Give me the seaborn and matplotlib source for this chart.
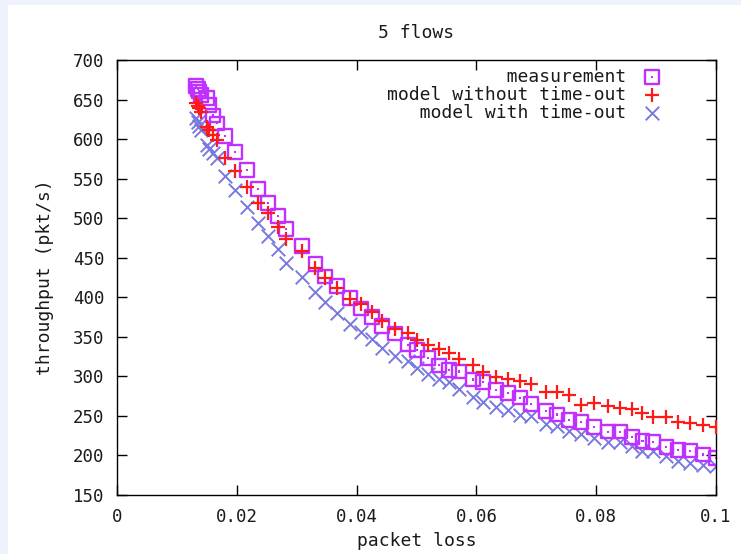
import numpy as np
import pandas as pd
import seaborn as sns
import matplotlib.pyplot as plt
from matplotlib.patches import Rectangle

# packet loss values (shared by the three series)
loss = [0.0132, 0.0135, 0.0137, 0.0140, 0.0150, 0.0154, 0.0160, 0.0167, 0.0180,
        0.0197, 0.0217, 0.0235, 0.0252, 0.0269, 0.0282, 0.0309, 0.0331, 0.0347,
        0.0367, 0.0389, 0.0407, 0.0426, 0.0442, 0.0464, 0.0486, 0.0501, 0.0519,
        0.0538, 0.0554, 0.0571, 0.0594, 0.0611, 0.0633, 0.0653, 0.0673, 0.0691,
        0.0716, 0.0735, 0.0755, 0.0775, 0.0796, 0.0820, 0.0840, 0.0860, 0.0877,
        0.0895, 0.0917, 0.0937, 0.0957, 0.0978, 0.1000]

measurement = [667, 663, 660, 656, 652, 643, 630, 620, 604, 584, 561, 537, 519,
               503, 486, 465, 442, 426, 414, 399, 386, 375, 364, 354, 340, 333,
               323, 314, 308, 306, 296, 293, 283, 279, 273, 265, 256, 252, 245,
               242, 236, 230, 230, 223, 218, 217, 211, 207, 206, 201, 197]

model_no_to = [646, 642, 639, 634, 615, 611, 605, 599, 576, 560, 539, 519, 507,
               489, 474, 459, 437, 424, 412, 398, 392, 381, 370, 360, 355, 346,
               340, 335, 330, 322, 314, 306, 299, 297, 294, 290, 280, 280, 276,
               264, 266, 262, 260, 259, 254, 249, 249, 242, 241, 239, 236]

model_to = [627, 622, 617, 611, 593, 587, 582, 576, 553, 536, 514, 494, 477,
            461, 443, 426, 407, 394, 380, 366, 356, 347, 336, 326, 320, 311,
            303, 297, 293, 284, 274, 268, 261, 258, 251, 250, 240, 237, 231,
            227, 222, 217, 217, 212, 206, 206, 199, 193, 190, 188, 187]

labels = ["measurement", "model without time-out", "model with time-out"]
xticks = [0, 0.02, 0.04, 0.06, 0.08, 0.1]
xticklabels = ["0", "0.02", "0.04", "0.06", "0.08", "0.1"]
yticks = [150, 200, 250, 300, 350, 400, 450, 500, 550, 600, 650, 700]

df = pd.DataFrame({"loss": loss, "meas": measurement,
                   "m1": model_no_to, "m2": model_to})

sns.set_theme(style="ticks")
plt.rcParams['font.family'] = ['DejaVu Sans Mono']

fig = plt.figure(figsize=(7.41, 5.54), dpi=100, facecolor='#eef2fd')
# white page area (light blue border at left/top like the screenshot)
fig.patches.append(Rectangle((8 / 741, 0), 1, 1 - 5 / 554, transform=fig.transFigure,
                             facecolor='white', edgecolor='none', zorder=-1))
ax = fig.add_axes([117 / 741, 59 / 554, 599 / 741, 435 / 554])
ax.set_facecolor('white')

purple = '#c030ff'
red = '#ff1a1a'
blue = '#7878e0'
txt = '#1a1a1a'

sns.scatterplot(data=df, x="loss", y="meas", marker='s', s=95, facecolor='none',
                edgecolor=purple, linewidth=1.7, ax=ax, zorder=3)
sq = ax.collections[-1]
sns.scatterplot(data=df, x="loss", y="meas", marker='s', s=3, color=purple,
                edgecolor='none', ax=ax, zorder=3)
dot = ax.collections[-1]
sns.scatterplot(data=df, x="loss", y="m1", marker='+', s=115, color=red,
                linewidth=1.6, ax=ax, zorder=4)
plus = ax.collections[-1]
sns.scatterplot(data=df, x="loss", y="m2", marker='x', s=95, color=blue,
                linewidth=1.4, ax=ax, zorder=2)
cross = ax.collections[-1]

ax.set_xlim(0, 0.1)
ax.set_ylim(150, 700)
ax.set_xticks(xticks)
ax.set_xticklabels(xticklabels)
ax.set_yticks(yticks)
ax.tick_params(direction='in', length=7, width=1, top=True, right=True,
               labelsize=12.5, colors='black', labelcolor=txt, pad=9)
for s in ax.spines.values():
    s.set_color('black')
    s.set_linewidth(1)

ax.set_xlabel("packet loss", fontsize=13, labelpad=5, color=txt)
ax.set_ylabel("throughput (pkt/s)", fontsize=13, labelpad=14, color=txt)
ax.set_title("5 flows", fontsize=13, pad=16, color=txt)

w = max(len(l) for l in labels)
padded = [l.rjust(w) for l in labels]
leg = ax.legend(handles=[(sq, dot), plus, cross], labels=padded, loc='upper right',
                bbox_to_anchor=(0.923, 0.999), frameon=False, markerfirst=False,
                fontsize=13, handletextpad=0.8, handlelength=1.2, labelspacing=0.0,
                borderaxespad=0)
for t in leg.get_texts():
    t.set_color(txt)

fig.savefig("out.png", dpi=100, facecolor=fig.get_facecolor())
